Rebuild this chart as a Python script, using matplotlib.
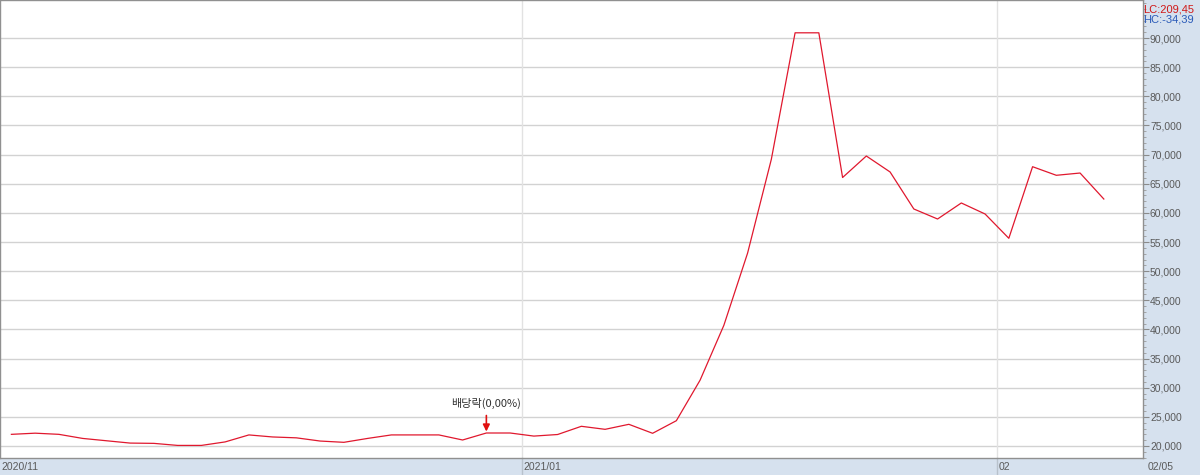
import matplotlib
matplotlib.use("Agg")
import matplotlib.pyplot as plt
from matplotlib.ticker import FuncFormatter, MultipleLocator
from matplotlib.patches import Rectangle

# ---- data (daily closes, 2020/11/30 .. 2021/02/05) ----
prices = [22000, 22200, 22000, 21300, 20900, 20500, 20450, 20100, 20100, 20700,
          21900, 21550, 21400, 20850, 20630, 21300, 21900, 21900, 21900, 21030,
          22230, 22230, 21700, 21970, 23380, 22860, 23720, 22180, 24340, 31300,
          40700, 53100, 69200, 90900, 90900, 66070, 69760, 67020, 60670, 58950,
          61700, 59810, 55640, 67925, 66450, 66840, 62380]
month_labels = ["2020/11", "2021/01", "02"]
month_pos = [-0.48, 21.5, 41.5]
last_label = "02/05"
y_ticks = list(range(20000, 95000, 5000))
event_idx = 20
event_text = "배당락(0,00%)"
lc_text = "LC:209,45"
hc_text = "HC:-34,39"

W, H = 1200, 475
fig = plt.figure(figsize=(W / 100, H / 100), dpi=100)
fig.patch.set_facecolor("white")

panel = "#d6e1ee"
ax_left, ax_bottom = 0.0, 17 / H
ax_w, ax_h = 1143 / W, 1 - 17 / H

# panels
fig.patches.append(Rectangle((ax_w, 0), 1 - ax_w, 1, transform=fig.transFigure,
                             facecolor=panel, edgecolor="none", zorder=-10))
fig.patches.append(Rectangle((0, 0), 1, ax_bottom, transform=fig.transFigure,
                             facecolor=panel, edgecolor="none", zorder=-10))

ax = fig.add_axes([ax_left, ax_bottom, ax_w, ax_h])
ax.set_facecolor("white")
x = list(range(len(prices)))
ax.plot(x, prices, color="#e0182e", lw=0.9, zorder=3)

ax.set_xlim(-0.48, 47.65)
ax.set_ylim(17940, 96530)

# grid
for v in y_ticks:
    ax.axhline(v, color="#d2d2d2", lw=1.0, zorder=1)
for p in month_pos[1:]:
    ax.axvline(p, color="#e2e2e2", lw=1.0, zorder=1)

for s in ["top", "left", "right", "bottom"]:
    ax.spines[s].set_color("#909090")
    ax.spines[s].set_linewidth(1.0)

ax.yaxis.tick_right()
ax.set_yticks(y_ticks)
ax.yaxis.set_major_formatter(FuncFormatter(lambda v, p: f"{int(v):,}"))
ax.yaxis.set_minor_locator(MultipleLocator(1000))
ax.tick_params(axis="y", which="major", direction="out", length=4, color="#8a8a8a",
               labelsize=7.5, labelcolor="#5a5a5a", pad=1)
ax.tick_params(axis="y", which="minor", direction="out", length=2, color="#9a9a9a")
for lab in ax.get_yticklabels():
    lab.set_fontfamily("Liberation Sans")
ax.set_xticks([])

# bottom date labels
for p, t in zip(month_pos, month_labels):
    ax.text(p + 0.08, -0.019, t, transform=ax.get_xaxis_transform(), ha="left", va="center",
            fontsize=7.5, color="#5a5a5a", family="Liberation Sans", clip_on=False)
    if p > 0:
        ax.plot([p, p], [-0.036, 0], transform=ax.get_xaxis_transform(), color="#b8c2cc",
                lw=1.0, clip_on=False)
fig.text(1148 / W, 8.5 / H, last_label, ha="left", va="center", fontsize=7.5,
         color="#5a5a5a", family="Liberation Sans")

# event annotation
yv = prices[event_idx]
ax.annotate("", xy=(event_idx, yv + 250), xytext=(event_idx, yv + 3000),
            arrowprops=dict(arrowstyle="-|>", color="#e01010", lw=1.2,
                            mutation_scale=10, shrinkA=0, shrinkB=0), zorder=4)
ax.text(event_idx, yv + 4200, event_text, ha="center", va="bottom", fontsize=8,
        color="#333333", family=["Noto Sans CJK KR", "DejaVu Sans"])

# LC / HC
fig.text(1143 / W, 1 - 9 / H, lc_text, ha="left", va="center", fontsize=8,
         color="#d01818", family="Liberation Sans")
fig.text(1143 / W, 1 - 20 / H, hc_text, ha="left", va="center", fontsize=8,
         color="#2a5ab8", family="Liberation Sans")

fig.savefig("out.png", dpi=100, facecolor=fig.get_facecolor())
